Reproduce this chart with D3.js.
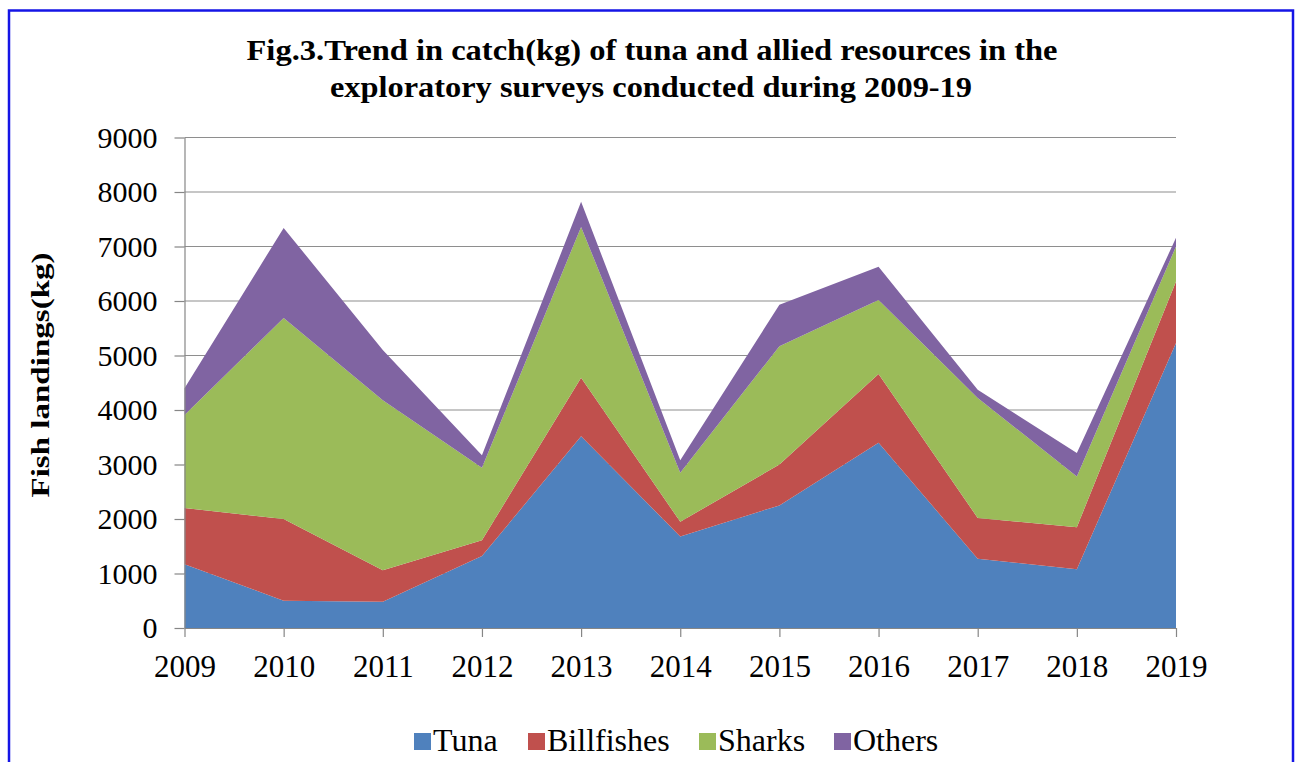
<!DOCTYPE html>
<html>
<head>
<meta charset="utf-8">
<script src="https://cdn.jsdelivr.net/npm/d3@7"></script>
<style>
    body { margin: 0; background: #ffffff; }
    svg { display: block; }
</style>
</head>
<body>
<svg id="drawing_region"></svg>
<script>
const years = [2009, 2010, 2011, 2012, 2013, 2014, 2015, 2016, 2017, 2018, 2019];
const tuna = [1170, 500, 480, 1320, 3520, 1680, 2250, 3400, 1270, 1080, 5230];
const billfishes = [1030, 1500, 580, 290, 1070, 270, 750, 1260, 750, 770, 1130];
const sharks = [1710, 3690, 3120, 1330, 2770, 900, 2170, 1360, 2200, 930, 640];
const others = [490, 1650, 920, 230, 460, 230, 760, 610, 150, 430, 160];
const series_names = ['Tuna', 'Billfishes', 'Sharks', 'Others'];
const y_ticks = [0, 1000, 2000, 3000, 4000, 5000, 6000, 7000, 8000, 9000];

class StackedAreaChart {

    constructor( config, data ) {
        this.config = {
            parent: config.parent,
            width: config.width || 256,
            height: config.height || 256,
            margin: config.margin || {top:10, right:10, bottom:10, left:10},
            colors: config.colors
        }
        this.data = data;
        this.init();
    }

    init() {
        let self = this;

        self.svg = d3.select( self.config.parent )
            .attr('width', self.config.width)
            .attr('height', self.config.height);

        // blue frame round the whole chart
        self.svg.append('rect')
            .attr('x', 9)
            .attr('y', 10.5)
            .attr('width', 1284)
            .attr('height', 790)
            .attr('fill', 'none')
            .attr('stroke', '#1515e6')
            .attr('stroke-width', 2.5);

        self.chart = self.svg.append('g')
            .attr('transform', `translate(${self.config.margin.left}, ${self.config.margin.top})`);

        self.inner_width = self.config.width - self.config.margin.left - self.config.margin.right;
        self.inner_height = self.config.height - self.config.margin.top - self.config.margin.bottom;

        self.xscale = d3.scaleLinear()
            .domain( [years[0], years[years.length - 1]] )
            .range( [0, self.inner_width] );

        self.yscale = d3.scaleLinear()
            .domain( [0, 9000] )
            .range( [self.inner_height, 0] );

        self.xaxis = d3.axisBottom( self.xscale )
            .tickValues(years)
            .tickFormat(d3.format('d'))
            .tickSize(9)
            .tickSizeOuter(0)
            .tickPadding(18);

        self.yaxis = d3.axisLeft( self.yscale )
            .tickValues(y_ticks)
            .tickFormat(d3.format('d'))
            .tickSize(10)
            .tickSizeOuter(0)
            .tickPadding(17);

        self.grid_group = self.chart.append('g');
        self.area_group = self.chart.append('g');

        self.xaxis_group = self.chart.append('g')
            .attr('transform', `translate(0, ${self.inner_height})`);

        self.yaxis_group = self.chart.append('g');

        self.svg.append('text')
            .attr('x', 652)
            .attr('y', 60)
            .attr('text-anchor', 'middle')
            .attr('font-family', '"Liberation Serif", "Times New Roman", serif')
            .attr('font-weight', 'bold')
            .attr('font-size', 29)
            .attr('textLength', 811)
            .attr('lengthAdjust', 'spacingAndGlyphs')
            .text('Fig.3.Trend in catch(kg)  of tuna and allied resources  in the');

        self.svg.append('text')
            .attr('x', 651)
            .attr('y', 97)
            .attr('text-anchor', 'middle')
            .attr('font-family', '"Liberation Serif", "Times New Roman", serif')
            .attr('font-weight', 'bold')
            .attr('font-size', 29)
            .attr('textLength', 642)
            .attr('lengthAdjust', 'spacingAndGlyphs')
            .text('exploratory surveys conducted  during 2009-19');

        self.svg.append('text')
            .attr('x', 0)
            .attr('y', 0)
            .attr('transform', 'translate(49, 375) rotate(-90)')
            .attr('text-anchor', 'middle')
            .attr('font-family', '"Liberation Serif", "Times New Roman", serif')
            .attr('font-weight', 'bold')
            .attr('font-size', 26)
            .attr('textLength', 245)
            .attr('lengthAdjust', 'spacingAndGlyphs')
            .text('Fish landings(kg)');
    }

    update() {
        let self = this;

        self.stack = d3.stack()
            .keys(series_names)(self.data);

        self.render();
    }

    render() {
        let self = this;

        self.grid_group.selectAll('.grid')
            .data(y_ticks.filter(d => d > 0))
            .join('line')
            .attr('class', 'grid')
            .attr('x1', 0)
            .attr('x2', self.inner_width)
            .attr('y1', d => self.yscale(d))
            .attr('y2', d => self.yscale(d))
            .attr('stroke', '#8e8e8e')
            .attr('stroke-width', 1.2);

        const area = d3.area()
            .x(d => self.xscale(d.data.year))
            .y0(d => self.yscale(d[0]))
            .y1(d => self.yscale(d[1]));

        self.area_group.selectAll('.layer')
            .data(self.stack)
            .join('path')
            .attr('class', 'layer')
            .attr('fill', (d, i) => self.config.colors[i])
            .attr('d', area);

        self.xaxis_group
            .call(self.xaxis);

        self.yaxis_group
            .call(self.yaxis);

        self.svg.selectAll('.domain, .tick line')
            .attr('stroke', '#868686')
            .attr('stroke-width', 1.2);

        self.svg.selectAll('.tick text')
            .attr('font-family', '"Liberation Serif", "Times New Roman", serif')
            .attr('font-size', 30)
            .attr('fill', '#000000');

        self.xaxis_group.selectAll('.tick text')
            .attr('font-size', 31)
            .attr('dy', '0.71em');

        // legend
        const legend = self.svg.append('g');
        const legend_x = [414, 528, 699, 834];
        series_names.forEach((name, i) => {
            legend.append('rect')
                .attr('x', legend_x[i])
                .attr('y', 733)
                .attr('width', 17)
                .attr('height', 17)
                .attr('fill', self.config.colors[i]);
            legend.append('text')
                .attr('x', legend_x[i] + 19)
                .attr('y', 751)
                .attr('font-family', '"Liberation Serif", "Times New Roman", serif')
                .attr('font-size', 32)
                .text(name);
        });
    }
}

const table = years.map((y, i) => ({
    year: y,
    Tuna: tuna[i],
    Billfishes: billfishes[i],
    Sharks: sharks[i],
    Others: others[i]
}));

const chart = new StackedAreaChart({
    parent: '#drawing_region',
    width: 1301,
    height: 762,
    margin: {top: 137.5, right: 125, bottom: 134, left: 184.5},
    colors: ['#4f81bd', '#c0504d', '#9bbb59', '#8064a2']
}, table);
chart.update();
</script>
</body>
</html>
